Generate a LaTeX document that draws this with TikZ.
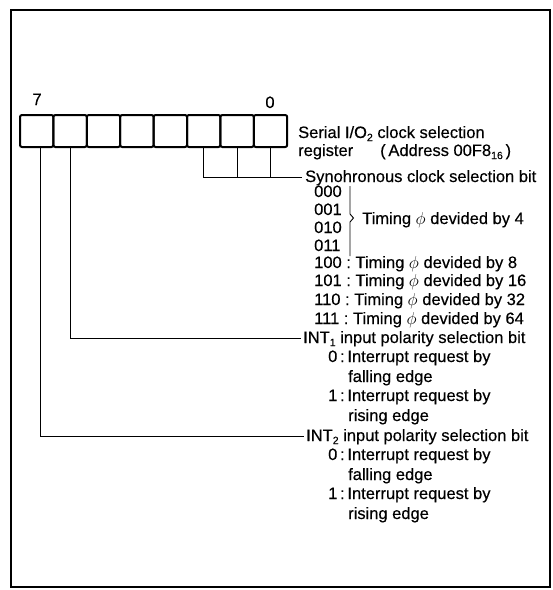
\documentclass[tikz,border=0pt]{standalone}
\usepackage{fontspec}
\setmainfont{Liberation Sans}[FakeBold=0.4]
\newcommand{\lowtxt}[1]{\raisebox{-0.35ex}{\fontsize{10.5}{12}\selectfont #1}}
\begin{document}
\begin{tikzpicture}[x=1pt,y=-1pt,
  txt/.style={anchor=base west,inner sep=0pt,font=\fontsize{16.5}{19.5}\selectfont},
  bitlbl/.style={anchor=base,inner sep=0pt,font=\fontsize{16.5}{19.5}\selectfont},
  cell/.style={draw,line width=2pt,rounded corners=2pt,minimum width=33.4pt,minimum height=32pt,inner sep=0pt},
  conn/.style={line width=0.9pt},
  frame/.style={line width=2.5pt}]
\useasboundingbox (0,0) rectangle (553,590);
\draw[frame] (11,10) rectangle (550,587);
% register cells
\foreach \i in {0,...,7}{
  \node[cell] (b\i) at ({20+33.4*(7-\i)+16.7},131) {};
}
\node[bitlbl] (l7) at (37,105) {7};
\node[bitlbl] (l0) at (270,108) {0};
% titles
\node[txt] (title) at (298,138) {Serial I/O\lowtxt{2} clock selection};
\node[txt] (reg) at (298,156) {register};
\node[txt] (addr) at (380,156) {(\,Address 00F8\lowtxt{16}\,)};
% synchronous clock selection
\node[txt] (sync) at (305,182) {Synohronous clock selection bit};
\node[txt] (c000) at (314,197) {000};
\node[txt] (c001) at (314,215) {001};
\node[txt] (c010) at (314,233) {010};
\node[txt] (c011) at (314,251) {011};
\draw[conn] (350,186) -- (350,214) -- (353.5,218) -- (350,222) -- (350,256);
\node[txt] (t4) at (362,224) {Timing $\phi$ devided by 4};
\node[txt] (c100) at (314,268) {100\;:\;Timing $\phi$ devided by 8};
\node[txt] (c101) at (314,286) {101\;:\;Timing $\phi$ devided by 16};
\node[txt] (c110) at (314,305) {110\;:\;Timing $\phi$ devided by 32};
\node[txt] (c111) at (314,324) {111\;:\;Timing $\phi$ devided by 64};
% INT1
\node[txt] (int1) at (303,343) {INT\lowtxt{1} input polarity selection bit};
\node[txt] (i10) at (328,362) {0\,:\,Interrupt request by};
\node[txt] (i10b) at (348,382) {falling edge};
\node[txt] (i11) at (328,401) {1\,:\,Interrupt request by};
\node[txt] (i11b) at (348,421) {rising edge};
% INT2
\node[txt] (int2) at (306,441) {INT\lowtxt{2} input polarity selection bit};
\node[txt] (i20) at (328,460) {0\,:\,Interrupt request by};
\node[txt] (i20b) at (348,480) {falling edge};
\node[txt] (i21) at (328,499) {1\,:\,Interrupt request by};
\node[txt] (i21b) at (348,519) {rising edge};
% connector end points
\coordinate (e0) at (302,177);
\coordinate (e6) at (301,338);
\coordinate (e7) at (304,436);
% connectors
\draw[conn] ([xshift=3.3pt]b7.south) |- (e7);
\draw[conn] ([xshift=0.5pt]b6.south) |- (e6);
\draw[conn] (b2.south) |- (e0);
\draw[conn] (b1.south) -- (b1.south |- e0);
\draw[conn] (b0.south) -- (b0.south |- e0);
\end{tikzpicture}
\end{document}
